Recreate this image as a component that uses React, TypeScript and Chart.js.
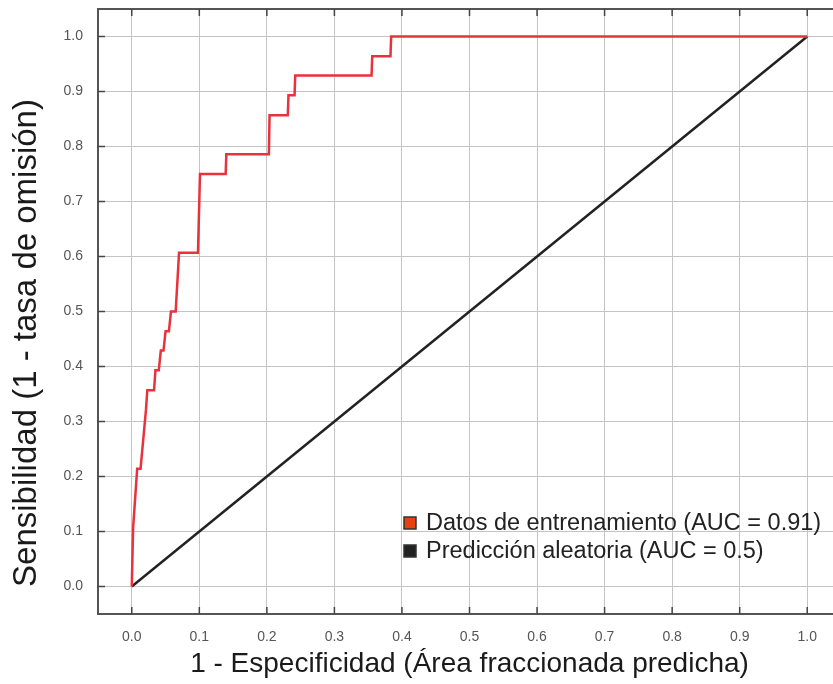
import React, { useEffect, useRef } from "react";
import { Chart, registerables } from "chart.js";

Chart.register(...registerables);

// ROC curve of the training data (x = 1 - specificity, y = sensitivity)
const trainingFpr = [
  0.0, 0.002, 0.008, 0.013, 0.021, 0.023, 0.033, 0.035, 0.040, 0.043, 0.047, 0.050, 0.055, 0.058, 0.065,
  0.070, 0.098, 0.101, 0.139, 0.140, 0.203, 0.204, 0.231, 0.232, 0.241, 0.242, 0.355, 0.356, 0.383, 0.384, 1.0,
];
const trainingTpr = [
  0.0, 0.107, 0.214, 0.214, 0.321, 0.357, 0.357, 0.393, 0.393, 0.429, 0.429, 0.464, 0.464, 0.5, 0.5,
  0.607, 0.607, 0.75, 0.75, 0.786, 0.786, 0.857, 0.857, 0.893, 0.893, 0.929, 0.929, 0.964, 0.964, 1.0, 1.0,
];
// Random prediction line
const randomFpr = [0.0, 1.0];
const randomTpr = [0.0, 1.0];

const tickValues = [0, 0.1, 0.2, 0.3, 0.4, 0.5, 0.6, 0.7, 0.8, 0.9, 1.0];

const legendLabels = ["Datos de entrenamiento (AUC = 0.91)", "Predicción aleatoria (AUC = 0.5)"];
const xTitle = "1 - Especificidad (Área fraccionada predicha)";
const yTitle = "Sensibilidad (1 - tasa de omisión)";

const FONT = "'Liberation Sans', Arial, sans-serif";

export default function App() {
  const ref = useRef<HTMLCanvasElement | null>(null);

  useEffect(() => {
    const canvas = ref.current;
    if (!canvas) return;

    const framePlugin = {
      id: "frameAndLegend",
      beforeDraw(chart: any) {
        const { ctx, width, height } = chart;
        ctx.save();
        ctx.fillStyle = "#ffffff";
        ctx.fillRect(0, 0, width, height);
        ctx.restore();
      },
      afterDraw(chart: any) {
        const { ctx, chartArea } = chart;
        const xs = chart.scales.x;
        const ys = chart.scales.y;
        ctx.save();
        // frame
        ctx.strokeStyle = "#555555";
        ctx.lineWidth = 2;
        ctx.strokeRect(chartArea.left, chartArea.top, chartArea.right - chartArea.left, chartArea.bottom - chartArea.top);
        // inner tick marks
        ctx.lineWidth = 1.5;
        ctx.strokeStyle = "#444444";
        const tl = 7;
        tickValues.forEach((v) => {
          const px = xs.getPixelForValue(v);
          ctx.beginPath();
          ctx.moveTo(px, chartArea.bottom);
          ctx.lineTo(px, chartArea.bottom - tl);
          ctx.moveTo(px, chartArea.top);
          ctx.lineTo(px, chartArea.top + tl);
          ctx.stroke();
          const py = ys.getPixelForValue(v);
          ctx.beginPath();
          ctx.moveTo(chartArea.left, py);
          ctx.lineTo(chartArea.left + tl, py);
          ctx.stroke();
        });
        // y title
        ctx.fillStyle = "#1a1a1a";
        ctx.font = `33px ${FONT}`;
        ctx.textAlign = "center";
        ctx.textBaseline = "middle";
        ctx.translate(27, 343);
        ctx.rotate(-Math.PI / 2);
        ctx.fillText(yTitle, 0, 0);
        ctx.restore();

        // legend
        ctx.save();
        const colors = ["#e8400e", "#222222"];
        const lx = 404;
        const baselines = [530, 558];
        ctx.font = `23.5px ${FONT}`;
        ctx.textAlign = "left";
        ctx.textBaseline = "alphabetic";
        legendLabels.forEach((label, i) => {
          const by = baselines[i];
          ctx.fillStyle = colors[i];
          ctx.fillRect(lx, by - 13, 12, 12);
          ctx.strokeStyle = "#333333";
          ctx.lineWidth = 1.5;
          ctx.strokeRect(lx, by - 13, 12, 12);
          ctx.fillStyle = "#222222";
          ctx.fillText(label, lx + 22, by);
        });
        ctx.restore();
      },
    };

    const filterTicks = (scale: any) => {
      scale.ticks = tickValues.map((v) => ({ value: v }));
    };

    const chart = new Chart(canvas, {
      type: "line",
      data: {
        datasets: [
          {
            label: legendLabels[0],
            data: trainingFpr.map((x, i) => ({ x, y: trainingTpr[i] })),
            borderColor: "#e8323c",
            borderWidth: 2.5,
            pointRadius: 0,
            fill: false,
            tension: 0,
          },
          {
            label: legendLabels[1],
            data: randomFpr.map((x, i) => ({ x, y: randomTpr[i] })),
            borderColor: "#222222",
            borderWidth: 2.5,
            pointRadius: 0,
            fill: false,
            tension: 0,
          },
        ],
      },
      options: {
        responsive: false,
        animation: false,
        layout: { padding: { left: 0, top: 9, right: 4, bottom: 0 } },
        plugins: {
          legend: { display: false },
          tooltip: { enabled: false },
        },
        scales: {
          x: {
            type: "linear",
            min: -0.05,
            max: 1.05,
            afterBuildTicks: filterTicks,
            afterFit: (scale: any) => {
              scale.height = 70;
              scale.paddingLeft = 0;
              scale.paddingRight = 0;
            },
            grid: { color: "#c4c4c4", lineWidth: 1, drawTicks: false },
            border: { display: false },
            ticks: {
              padding: 15,
              color: "#555555",
              font: { family: FONT, size: 14 },
              callback: (v: any) => Number(v).toFixed(1),
            },
            title: {
              display: true,
              text: xTitle,
              color: "#1a1a1a",
              font: { family: FONT, size: 28 },
              padding: { top: 0, bottom: 3 },
            },
          },
          y: {
            type: "linear",
            min: -0.05,
            max: 1.05,
            afterBuildTicks: filterTicks,
            afterFit: (scale: any) => {
              scale.width = 98;
              scale.paddingTop = 0;
              scale.paddingBottom = 0;
            },
            grid: { color: "#c4c4c4", lineWidth: 1, drawTicks: false },
            border: { display: false },
            ticks: {
              padding: 15,
              color: "#555555",
              font: { family: FONT, size: 14 },
              callback: (v: any) => Number(v).toFixed(1),
            },
          },
        },
      },
      plugins: [framePlugin],
    });

    return () => {
      chart.destroy();
    };
  }, []);

  return (
    <div style={{ position: "fixed", left: 0, top: 0, width: 833, height: 684, overflow: "hidden", background: "#fff" }}>
      <canvas ref={ref} width={845} height={684} style={{ display: "block", width: 845, height: 684 }} />
    </div>
  );
}
